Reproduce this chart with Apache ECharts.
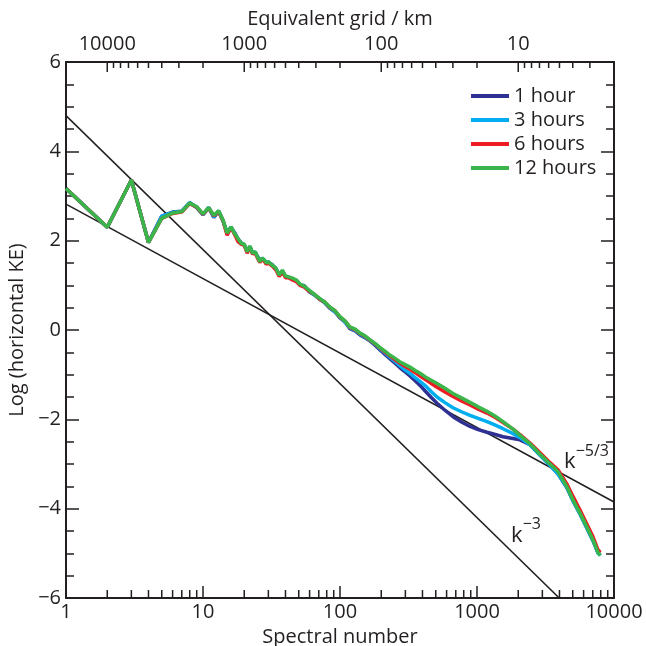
<!DOCTYPE html>
<html>
<head>
<meta charset="utf-8">
<script src="https://cdn.jsdelivr.net/npm/echarts@6/dist/echarts.min.js"></script>
<style>
html, body { margin: 0; padding: 0; background: #fff; }
#main { width: 646px; height: 646px; }
</style>
</head>
<body>
<div id="main"></div>
<script>
// spectral numbers (x) shared by all four runs
var spectralNumber = [
  1, 2, 3, 4, 5, 6, 7, 8, 9, 10,
  11, 12, 13, 14, 15, 16, 17, 18, 19, 20,
  21, 22, 23, 24, 25, 26, 27, 28, 29, 30,
  32, 34, 36, 38, 40, 42, 45, 48, 51, 55,
  60, 65, 71, 77, 84, 92, 100, 109, 118, 129,
  140, 152, 166, 180, 195, 212, 231, 251, 273, 297,
  324, 352, 384, 420, 460, 511, 580, 668, 770, 889,
  1020, 1183, 1360, 1549, 1832, 2060, 2438, 2884, 3412, 3899,
  4515, 5012, 5649, 6310, 7030, 7640, 7943
];

var oneHour = [
  3.17, 2.30, 3.36, 1.96, 2.55, 2.64, 2.66, 2.85, 2.74, 2.58,
  2.74, 2.52, 2.66, 2.44, 2.17, 2.30, 2.18, 2.04, 1.95, 1.90,
  1.77, 1.86, 1.73, 1.74, 1.65, 1.55, 1.60, 1.56, 1.49, 1.52,
  1.46, 1.37, 1.25, 1.31, 1.20, 1.19, 1.13, 1.11, 1.01, 0.99,
  0.85, 0.79, 0.69, 0.62, 0.49, 0.41, 0.27, 0.18, 0.03, -0.02,
  -0.11, -0.17, -0.25, -0.34, -0.44, -0.54, -0.64, -0.74, -0.84, -0.93,
  -1.03, -1.13, -1.24, -1.37, -1.50, -1.64, -1.79, -1.94, -2.06, -2.16,
  -2.23, -2.29, -2.34, -2.39, -2.43, -2.46, -2.57, -2.80, -3.03, -3.22,
  -3.52, -3.82, -4.12, -4.42, -4.72, -4.99, -5.03
];

var threeHours = [
  3.17, 2.30, 3.36, 1.96, 2.55, 2.63, 2.66, 2.85, 2.75, 2.58,
  2.74, 2.53, 2.67, 2.45, 2.16, 2.31, 2.17, 2.03, 1.95, 1.91,
  1.76, 1.87, 1.72, 1.75, 1.64, 1.54, 1.61, 1.57, 1.49, 1.53,
  1.45, 1.38, 1.24, 1.32, 1.20, 1.18, 1.14, 1.10, 1.02, 0.97,
  0.86, 0.78, 0.70, 0.61, 0.50, 0.40, 0.28, 0.17, 0.05, -0.01,
  -0.09, -0.16, -0.24, -0.32, -0.42, -0.51, -0.61, -0.70, -0.80, -0.89,
  -0.97, -1.06, -1.15, -1.25, -1.37, -1.50, -1.62, -1.74, -1.83, -1.91,
  -1.98, -2.05, -2.13, -2.21, -2.32, -2.41, -2.57, -2.80, -3.03, -3.22,
  -3.52, -3.82, -4.12, -4.42, -4.72, -4.99, -5.05
];

var sixHours = [
  3.17, 2.30, 3.36, 1.96, 2.50, 2.61, 2.64, 2.83, 2.75, 2.59,
  2.73, 2.56, 2.65, 2.45, 2.12, 2.29, 2.14, 1.98, 1.92, 1.90,
  1.72, 1.86, 1.70, 1.73, 1.61, 1.51, 1.59, 1.54, 1.47, 1.50,
  1.43, 1.35, 1.20, 1.30, 1.17, 1.17, 1.12, 1.08, 1.00, 0.96,
  0.86, 0.80, 0.69, 0.63, 0.51, 0.43, 0.29, 0.20, 0.06, 0.01,
  -0.08, -0.14, -0.23, -0.31, -0.40, -0.49, -0.58, -0.66, -0.74, -0.81,
  -0.88, -0.95, -1.03, -1.11, -1.19, -1.28, -1.38, -1.49, -1.59, -1.68,
  -1.77, -1.86, -1.96, -2.07, -2.22, -2.34, -2.53, -2.75, -2.97, -3.13,
  -3.44, -3.72, -4.03, -4.33, -4.63, -4.92, -4.98
];

var twelveHours = [
  3.17, 2.30, 3.36, 1.96, 2.50, 2.62, 2.65, 2.84, 2.76, 2.60,
  2.74, 2.57, 2.67, 2.46, 2.17, 2.31, 2.16, 2.05, 1.94, 1.92,
  1.75, 1.88, 1.72, 1.75, 1.64, 1.53, 1.61, 1.57, 1.50, 1.53,
  1.45, 1.39, 1.23, 1.34, 1.21, 1.19, 1.16, 1.12, 1.03, 0.98,
  0.88, 0.80, 0.71, 0.63, 0.52, 0.43, 0.30, 0.20, 0.07, 0.02,
  -0.07, -0.13, -0.22, -0.30, -0.39, -0.47, -0.56, -0.63, -0.71, -0.77,
  -0.83, -0.90, -0.97, -1.05, -1.12, -1.20, -1.30, -1.42, -1.52, -1.62,
  -1.72, -1.82, -1.93, -2.05, -2.22, -2.36, -2.55, -2.78, -3.00, -3.17,
  -3.50, -3.80, -4.10, -4.40, -4.70, -4.98, -5.05
];

// reference slopes
var slopeK = [1, 10000];
var slopeFiveThirds = [2.82, -3.85];
var slopeThree = [4.8, -7.2];

// axis ticks
var decadeK = [1, 10, 100, 1000, 10000];
var minorK = [2, 3, 4, 5, 6, 7, 8, 9, 20, 30, 40, 50, 60, 70, 80, 90,
  200, 300, 400, 500, 600, 700, 800, 900, 2000, 3000, 4000, 5000, 6000, 7000, 8000, 9000];
var gridKmLabels = [10, 100, 1000, 10000];
var minorKm = [2, 3, 4, 5, 6, 7, 8, 9, 20, 30, 40, 50, 60, 70, 80, 90,
  200, 300, 400, 500, 600, 700, 800, 900, 2000, 3000, 4000, 5000, 6000, 7000, 8000, 9000];

var names = ['1 hour', '3 hours', '6 hours', '12 hours'];
var colors = ['#2e3192', '#00aeef', '#ed1c24', '#39b54a'];
var runs = [oneHour, threeHours, sixHours, twelveHours];

function pairs(xs, ys) {
  return xs.map(function (x, i) { return [x, ys[i]]; });
}
function plain(v) { return String(v); }

var ink = '#231f20';
var font = 'Open Sans';
var gridTop = 62, gridBottom = 48, chartSize = 646;
var pxPerUnit = (chartSize - gridTop - gridBottom) / 12;
var myChart = echarts.init(document.getElementById('main'));

var series = runs.map(function (r, i) {
  return {
    name: names[i],
    type: 'line',
    data: pairs(spectralNumber, r),
    showSymbol: false,
    symbol: 'none',
    lineStyle: { color: colors[i], width: 3.5 },
    itemStyle: { color: colors[i] },
    z: 5 + i
  };
});

var powRich = {
  k: { fontSize: 22, fontFamily: font, color: ink, verticalAlign: 'bottom', lineHeight: 30 },
  s: { fontSize: 16, fontFamily: font, color: ink, verticalAlign: 'top', lineHeight: 30 }
};
series.push({
  type: 'line',
  data: pairs(slopeK, slopeFiveThirds),
  symbol: 'none',
  lineStyle: { color: ink, width: 1.5 },
  z: 2,
  markPoint: {
    symbol: 'circle',
    symbolSize: 0,
    data: [{ coord: [6300, -2.87] }],
    label: { show: true, position: 'inside', formatter: '{k|k}{s|\u22125/3}', rich: powRich }
  }
});
series.push({
  type: 'line',
  data: pairs(slopeK, slopeThree),
  symbol: 'none',
  lineStyle: { color: ink, width: 1.5 },
  z: 2,
  markPoint: {
    symbol: 'circle',
    symbolSize: 0,
    data: [{ coord: [2280, -4.52] }],
    label: { show: true, position: 'inside', formatter: '{k|k}{s|\u22123}', rich: powRich }
  }
});

// log-axis tick marks as short broken line segments standing on the axis lines
function tickSeries(values, axisIndex, yEdge, lenPx) {
  var dy = (yEdge < 0 ? 1 : -1) * lenPx / pxPerUnit;
  var data = [];
  values.forEach(function (v) {
    data.push([v, yEdge], [v, yEdge + dy], [v, '-']);
  });
  return {
    type: 'line',
    xAxisIndex: axisIndex,
    data: data,
    symbol: 'none',
    showSymbol: false,
    connectNulls: false,
    clip: false,
    silent: true,
    lineStyle: { color: ink, width: 1.5 },
    z: 3
  };
}
series.push(tickSeries(decadeK, 0, -6, 12));
series.push(tickSeries(minorK, 0, -6, 8));
series.push(tickSeries(gridKmLabels, 1, 6, 10));
series.push(tickSeries(minorKm, 1, 6, 6));

var labelStyle = { color: ink, fontSize: 20, fontFamily: font };
function tickLine() { return { color: ink, width: 1.5 }; }

var option = {
  animation: false,
  backgroundColor: '#fff',
  grid: { left: 66, right: 32, top: gridTop, bottom: gridBottom, outerBoundsMode: 'none' },
  legend: {
    data: names,
    orient: 'vertical',
    left: 466,
    top: 81,
    itemWidth: 38,
    itemHeight: 4,
    itemGap: 4,
    icon: 'rect',
    textStyle: { color: ink, fontSize: 20, fontFamily: font, lineHeight: 20 }
  },
  xAxis: [
    {
      type: 'log', min: 1, max: 10000, position: 'bottom',
      name: 'Spectral number', nameLocation: 'middle', nameGap: 26,
      nameTextStyle: labelStyle,
      axisLine: { onZero: false, lineStyle: { color: ink, width: 2 } },
      axisTick: { show: false },
      axisLabel: Object.assign({ margin: 4, formatter: plain, customValues: decadeK }, labelStyle),
      splitLine: { show: false }
    },
    {
      type: 'log', min: 2, max: 20000, inverse: true, position: 'top',
      name: 'Equivalent grid / km', nameLocation: 'middle', nameGap: 30,
      nameTextStyle: labelStyle,
      axisLine: { onZero: false, lineStyle: { color: ink, width: 2 } },
      axisTick: { show: false },
      axisLabel: Object.assign({ margin: 8, formatter: plain, customValues: gridKmLabels }, labelStyle),
      splitLine: { show: false }
    }
  ],
  yAxis: [
    {
      type: 'value', min: -6, max: 6, interval: 2, position: 'left',
      name: 'Log (horizontal KE)', nameLocation: 'middle', nameGap: 34,
      nameTextStyle: labelStyle,
      axisLine: { show: true, onZero: false, lineStyle: { color: ink, width: 2 } },
      axisTick: { show: true, inside: true, length: 13, lineStyle: tickLine() },
      minorTick: { show: true, splitNumber: 4, length: 8, lineStyle: tickLine() },
      axisLabel: Object.assign({
        margin: 5,
        formatter: function (v) { return v < 0 ? '\u2212' + (-v) : String(v); }
      }, labelStyle),
      splitLine: { show: false }
    },
    {
      type: 'value', min: -6, max: 6, interval: 2, position: 'right',
      axisLine: { show: true, onZero: false, lineStyle: { color: ink, width: 2 } },
      axisTick: { show: true, inside: true, length: 13, lineStyle: tickLine() },
      minorTick: { show: true, splitNumber: 4, length: 8, lineStyle: tickLine() },
      axisLabel: { show: false },
      splitLine: { show: false }
    }
  ],
  series: series
};

myChart.setOption(option);
</script>
</body>
</html>
